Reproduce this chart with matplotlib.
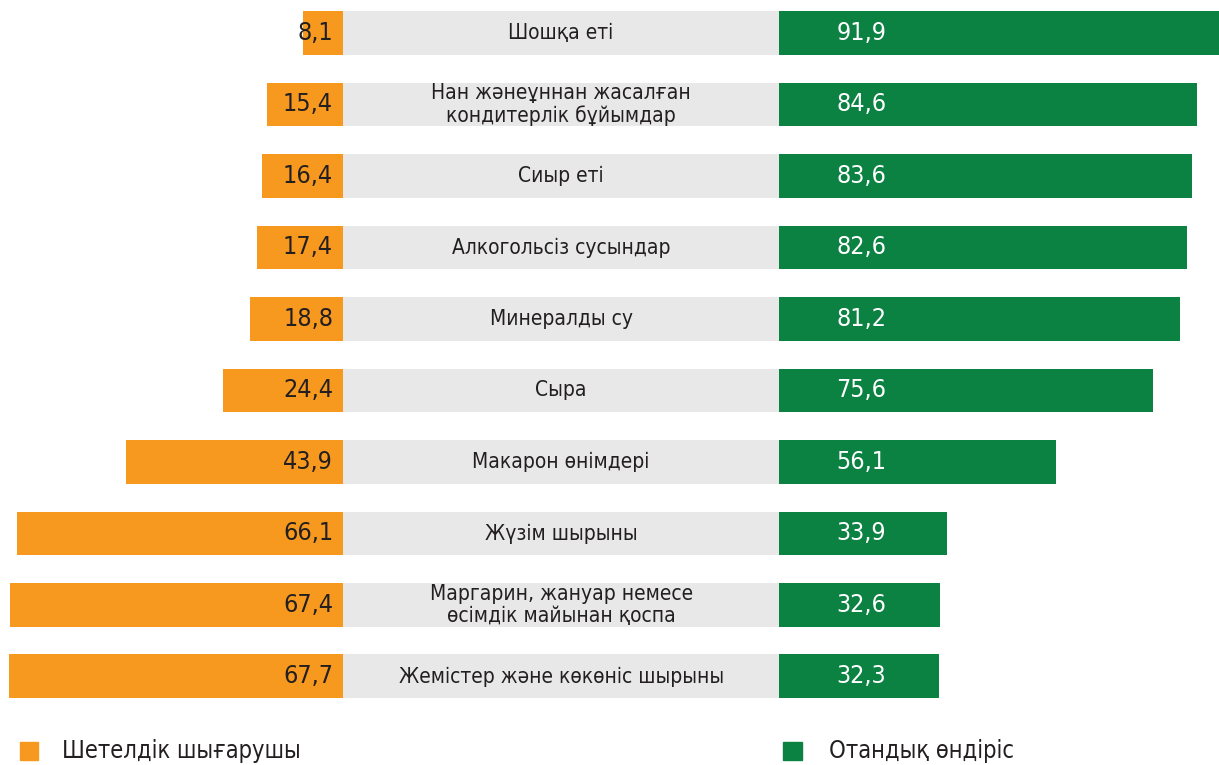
import numpy as np
import matplotlib.pyplot as plt
from matplotlib.patches import Rectangle

# data
categories = ["Шошқа еті",
              "Нан жәнеұннан жасалған\nкондитерлік бұйымдар",
              "Сиыр еті",
              "Алкогольсіз сусындар",
              "Минералды су",
              "Сыра",
              "Макарон өнімдері",
              "Жүзім шырыны",
              "Маргарин, жануар немесе\nөсімдік майынан қоспа",
              "Жемістер және көкөніс шырыны"]
foreign = [8.1, 15.4, 16.4, 17.4, 18.8, 24.4, 43.9, 66.1, 67.4, 67.7]
domestic = [91.9, 84.6, 83.6, 82.6, 81.2, 75.6, 56.1, 33.9, 32.6, 32.3]
legend_labels = ["Шетелдік шығарушы", "Отандық өндіріс"]

ORANGE = "#F7991E"
GREEN = "#0B8142"
GREY = "#E8E8E8"
TXT = "#231F20"

plt.rcParams['font.family'] = ['DejaVu Sans']
plt.rcParams['font.stretch'] = 'condensed'

fig = plt.figure(figsize=(12.19, 7.65), dpi=100)
ax = fig.add_axes([0, 0, 1, 1])

half = 44.15          # half width of the grey label band (in value units)
y = np.arange(len(categories))
h = 0.615

ax.barh(y, 2 * half, left=-half, height=h, color=GREY, zorder=1)
ax.barh(y, -np.array(foreign), left=-half, height=h, color=ORANGE, zorder=2)
ax.barh(y, domestic, left=half, height=h, color=GREEN, zorder=2)

for i, (cat, f, d) in enumerate(zip(categories, foreign, domestic)):
    ax.text(0, i, cat, ha='center', va='center', fontsize=15, color=TXT,
            stretch='condensed', linespacing=1.1, zorder=3)
    ax.text(-half - 2.0, i, f"{f:.1f}".replace('.', ','), ha='right',
            va='center', fontsize=18, color=TXT, stretch='condensed', zorder=3)
    ax.text(half + 11.6, i, f"{d:.1f}".replace('.', ','), ha='left',
            va='center', fontsize=18, color='white', stretch='condensed', zorder=3)

ax.set_xlim(-113.6, 133.2)
ax.set_ylim(10.238, -0.4615)
ax.axis('off')

# legend
W, H = 1219, 765
fig.patches.append(Rectangle((20 / W, 1 - 760 / H), 18 / W, 18 / H,
                             transform=fig.transFigure, color=ORANGE))
fig.text(62 / W, 1 - 751 / H, legend_labels[0], fontsize=17, color=TXT,
         stretch='condensed', va='center', ha='left')
fig.patches.append(Rectangle((783 / W, 1 - 760 / H), 19 / W, 18 / H,
                             transform=fig.transFigure, color=GREEN))
fig.text(829 / W, 1 - 751 / H, legend_labels[1], fontsize=17, color=TXT,
         stretch='condensed', va='center', ha='left')

fig.savefig('out.png', dpi=100)
